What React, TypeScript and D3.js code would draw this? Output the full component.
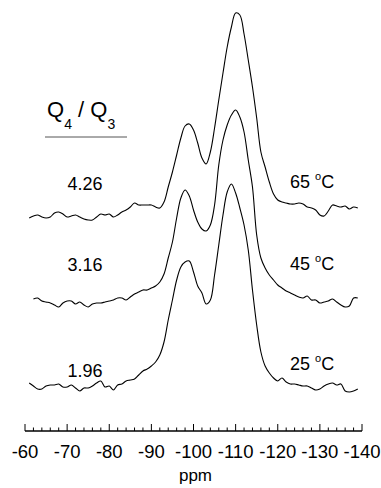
import React from 'react';
import * as d3 from 'd3';

// chemical shift grid (ppm)
const PPM = [
  -61, -62, -63, -64, -65, -66, -67, -68, -69, -70,
  -71, -72, -73, -74, -75, -76, -77, -78, -79, -80,
  -81, -82, -83, -84, -85, -86, -87, -88, -89, -90,
  -91, -92, -93, -94, -95, -96, -97, -98, -99, -100,
  -101, -102, -103, -104, -105, -106, -107, -108, -109, -110,
  -111, -112, -113, -114, -115, -116, -117, -118, -119, -120,
  -121, -122, -123, -124, -125, -126, -127, -128, -129, -130,
  -131, -132, -133, -134, -135, -136, -137, -138, -139,
];

// intensities (arbitrary units) relative to each spectrum's baseline
const I65 = [
  -5, -3, -2, -4, -5, -4, 0, 1, -1, -4,
  -3, -2, -4, -6, -7, -7, -4, -1, -2, -1,
  -4, -2, 1, 3, 6, 10, 8, 8, 8, 8,
  6, 5, 11, 26, 41, 58, 75, 87, 89, 83,
  70, 55, 49, 61, 85, 113, 140, 166, 186, 200,
  198, 179, 153, 126, 95, 61, 46, 31, 19, 13,
  11, 10, 9, 9, 10, 9, 6, 5, 3, -2,
  -3, 2, 8, 7, 6, 7, 4, 6, 5,
];
const I45 = [
  null, 3, 4, 1, 0, -1, -3, -5, -1, 1,
  1, -2, 0, -3, -5, -2, -1, -1, 0, 1,
  2, 4, 4, 2, 5, 8, 10, 12, 12, 14,
  16, 20, 28, 44, 60, 84, 104, 112, 106, 92,
  80, 73, 71, 77, 97, 137, 162, 177, 187, 192,
  185, 170, 142, 115, 67, 44, 34, 27, 22, 17,
  14, 11, 9, 7, 5, 4, 6, 2, 2, -1,
  0, 1, 3, 0, -3, -5, -4, 4, 4,
];
const I25 = [
  3, 0, -3, -3, 0, 1, 1, 2, -1, -1,
  1, -2, -5, -2, -2, 0, 3, 5, -1, 0,
  -4, 1, 2, 5, 6, 7, 11, 15, 17, 20,
  24, 31, 44, 66, 86, 106, 119, 124, 125, 114,
  100, 93, 82, 86, 111, 141, 171, 194, 202, 193,
  178, 161, 136, 96, 61, 34, 20, 13, 8, 5,
  8, 4, 2, 2, 1, 0, 0, -2, -4, -3,
  0, 2, 3, 1, 2, -5, -6, -5, -3,
];

const SERIES = [I65, I45, I25];
const OFFSETS = [187, 98, 14];
const TEMPS = ['65', '45', '25'];
const RATIOS = ['4.26', '3.16', '1.96'];
const TICK_LABELS = [-60, -70, -80, -90, -100, -110, -120, -130, -140];
const MINOR_TICKS = [
  -60, -62, -64, -66, -68, -70, -72, -74, -76, -78, -80, -82, -84, -86, -88,
  -90, -92, -94, -96, -98, -100, -102, -104, -106, -108, -110, -112, -114,
  -116, -118, -120, -122, -124, -126, -128, -130, -132, -134, -136, -138, -140,
];

const W = 381;
const H = 488;
const FONT = 'Liberation Sans, Arial, Helvetica, sans-serif';

export default function App() {
  const x = d3.scaleLinear().domain([-60, -140]).range([25, 362]);
  const y = d3.scaleLinear().domain([0, 400]).range([400, 0]);
  const axisY = 431;

  const lines = SERIES.map((vals, k) => {
    const pts = PPM.map((p, i) => ({ p, v: vals[i] }));
    const gen = d3
      .line<{ p: number; v: number | null }>()
      .defined((d) => d.v !== null)
      .x((d) => x(d.p))
      .y((d) => y((d.v as number) + OFFSETS[k]))
      .curve(d3.curveCatmullRom.alpha(0.5));
    return gen(pts) || '';
  });

  const ratioY = [190, 271, 377];
  const tempY = [188, 270, 370];

  return (
    <svg
      width={W}
      height={H}
      style={{ position: 'absolute', left: 0, top: 0, background: '#fff' }}
      fontFamily={FONT}
    >
      <rect x={0} y={0} width={W} height={H} fill="#fff" />
      {lines.map((d, i) => (
        <path key={i} d={d} fill="none" stroke="#000" strokeWidth={1.1} />
      ))}

      {/* header Q4 / Q3 */}
      <text x={47} y={117} fontSize={22} fill="#000">
        Q
        <tspan fontSize={14} dy={12}>4</tspan>
        <tspan fontSize={22} dy={-12}> / Q</tspan>
        <tspan fontSize={14} dy={12}>3</tspan>
      </text>
      <line x1={45} x2={127} y1={137} y2={137} stroke="#555" strokeWidth={1} />

      {RATIOS.map((r, i) => (
        <text key={r} x={85} y={ratioY[i]} fontSize={18} textAnchor="middle" fill="#000">
          {r}
        </text>
      ))}
      {TEMPS.map((t, i) => (
        <text key={t} x={290} y={tempY[i]} fontSize={18} fill="#000">
          {t + ' '}
          <tspan fontSize={11} dy={-8}>o</tspan>
          <tspan fontSize={18} dy={8}>C</tspan>
        </text>
      ))}

      {/* axis */}
      <line x1={x(-60)} x2={x(-140)} y1={axisY} y2={axisY} stroke="#000" strokeWidth={1.5} />
      {MINOR_TICKS.map((t) => (
        <line
          key={t}
          x1={x(t)}
          x2={x(t)}
          y1={axisY}
          y2={axisY - (t % 10 === 0 ? 7 : 3.5)}
          stroke="#000"
          strokeWidth={1}
        />
      ))}
      {TICK_LABELS.map((t) => (
        <text key={t} x={x(t)} y={458} fontSize={18.5} textAnchor="middle" fill="#000">
          {'-' + Math.abs(t)}
        </text>
      ))}
      <text x={(x(-60) + x(-140)) / 2 + 2} y={481} fontSize={17} textAnchor="middle" fill="#000">
        ppm
      </text>
    </svg>
  );
}
